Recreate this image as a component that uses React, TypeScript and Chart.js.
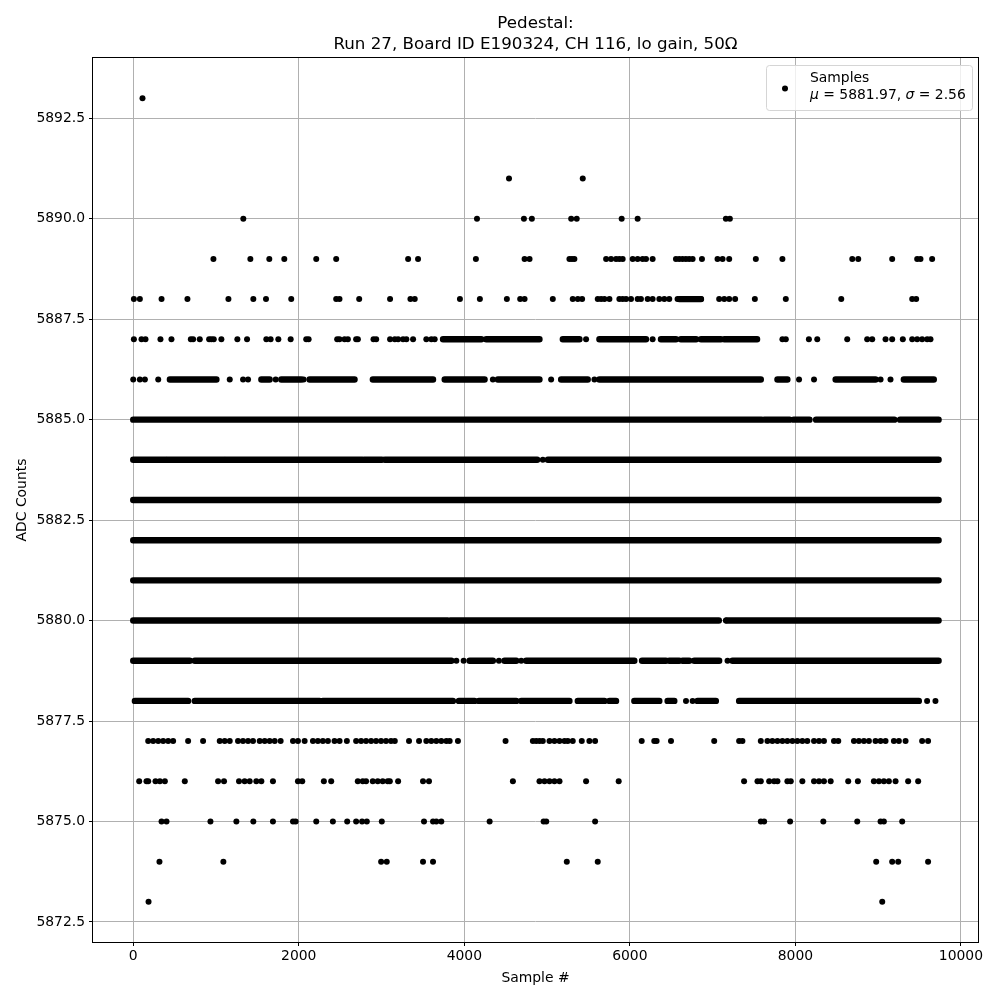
import React, { useEffect, useRef } from "react";
import { Chart, registerables } from "chart.js";
Chart.register(...registerables);

const titleLine1 = "Pedestal:";
const titleLine2 = "Run 27, Board ID E190324, CH 116, lo gain, 50Ω";
const xLabel = "Sample #";
const yLabel = "ADC Counts";
const legendLabel = "Samples";
const legendMu = "5881.97";
const legendSigma = "2.56";

const xTicks = [0, 2000, 4000, 6000, 8000, 10000];
const yTicks = [5872.5, 5875, 5877.5, 5880, 5882.5, 5885, 5887.5, 5890, 5892.5];
const xMin = -486;
const xMax = 10206;
const yMin = 5872;
const yMax = 5894;

// Isolated samples, grouped by ADC level
const sparseLevels = [5893, 5891, 5890, 5889, 5888, 5887, 5886, 5884, 5880, 5879, 5878, 5877, 5876, 5875, 5874, 5873];
const sparseX = [
  [112],
  [4540, 5431],
  [1330, 4153, 4720, 4816, 5291, 5358, 5901, 6094, 7160, 7208],
  [969, 1415, 1644, 1825, 2211, 2452, 3321, 3441, 4140, 4728, 4788, 5270, 5300, 5330, 5713, 5773, 5833, 5873, 5913, 6034, 6094, 6154, 6195, 6275, 6557, 6597, 6637, 6677, 6717, 6758, 6871, 7059, 7120, 7200, 7522, 7843, 8687, 8759, 9169, 9471, 9511, 9652],
  [8, 80, 342, 655, 1150, 1451, 1604, 1909, 2452, 2492, 2730, 3103, 3349, 3401, 3947, 4188, 4514, 4675, 4728, 5069, 5310, 5371, 5423, 5612, 5653, 5693, 5753, 5873, 5913, 5954, 6014, 6094, 6134, 6215, 6275, 6356, 6416, 6476, 6576, 6617, 6657, 6697, 6737, 6778, 6818, 6859, 7079, 7140, 7200, 7272, 7510, 7884, 8554, 9411, 9459],
  [8, 100, 148, 329, 462, 696, 724, 804, 917, 944, 973, 1065, 1258, 1375, 1608, 1660, 1753, 1902, 2090, 2119, 2464, 2492, 2553, 2593, 2693, 2714, 2903, 2935, 3103, 3160, 3200, 3260, 3300, 3381, 3541, 3602, 3642, 5471, 6275, 7843, 7884, 8163, 8264, 8626, 8867, 8928, 9089, 9169, 9298, 9411, 9471, 9531, 9592, 9632],
  [0, 80, 141, 302, 1166, 1327, 1387, 1721, 2059, 4345, 5049, 5572, 8044, 8225, 9029, 9149],
  [4948],
  [7160],
  [3904, 3992, 4418, 4688, 7180],
  [2271, 6678, 6758, 9591, 9692],
  [181, 241, 302, 362, 422, 482, 663, 844, 1045, 1105, 1166, 1266, 1326, 1387, 1447, 1528, 1588, 1648, 1709, 1781, 1930, 1990, 2071, 2171, 2231, 2291, 2352, 2432, 2493, 2581, 2693, 2753, 2813, 2874, 2934, 2994, 3054, 3114, 3160, 3332, 3453, 3541, 3601, 3662, 3722, 3783, 3823, 3923, 4498, 4828, 4869, 4909, 4948, 5029, 5089, 5150, 5210, 5250, 5310, 5419, 5511, 5580, 6143, 6295, 6323, 6497, 7019, 7320, 7360, 7582, 7662, 7722, 7783, 7843, 7903, 7964, 8024, 8084, 8144, 8225, 8285, 8345, 8466, 8518, 8707, 8767, 8828, 8888, 8968, 9029, 9089, 9190, 9250, 9331, 9531, 9603],
  [72, 160, 181, 269, 322, 382, 623, 1025, 1097, 1278, 1346, 1407, 1487, 1548, 1688, 1990, 2042, 2303, 2392, 2713, 2773, 2813, 2894, 2954, 3014, 3074, 3100, 3200, 3501, 3573, 4587, 4908, 4969, 5029, 5089, 5150, 5471, 5865, 7380, 7542, 7582, 7683, 7743, 7783, 7903, 7944, 8084, 8225, 8285, 8345, 8426, 8638, 8755, 8948, 9009, 9069, 9129, 9210, 9362, 9483],
  [342, 402, 933, 1246, 1451, 1688, 1930, 1962, 2211, 2412, 2585, 2693, 2765, 2822, 3003, 3513, 3622, 3662, 3722, 4306, 4958, 4990, 5580, 7582, 7622, 7936, 8337, 8747, 9029, 9069, 9290],
  [317, 1089, 2995, 3063, 3501, 3622, 5238, 5612, 8976, 9169, 9242, 9603],
  [185, 9049],
];

// Runs of consecutive samples at one level (start, end sample #) that merge into continuous bands
const runLevels = [5888, 5887, 5886, 5885, 5884, 5883, 5882, 5881, 5880, 5879, 5878];
const runRanges = [
  [[6597, 6859]],
  [[3743, 4205], [4265, 4908], [5190, 5391], [5632, 6195], [6376, 6557], [6617, 6800], [6860, 7100], [7140, 7537]],
  [[443, 1005], [1548, 1648], [1789, 2030], [2131, 2674], [2895, 3622], [3763, 4245], [4406, 4908], [5170, 5491], [5632, 7582], [7783, 7903], [8486, 8968], [9310, 9672]],
  [[0, 7590], [7625, 7930], [7980, 8170], [8250, 9195], [9265, 9730]],
  [[0, 395], [410, 1100], [1115, 2770], [2790, 3005], [3040, 4880], [5010, 9730]],
  [[0, 9730]],
  [[0, 9730]],
  [[0, 9730]],
  [[0, 3800], [3830, 7075], [7170, 9730]],
  [[0, 683], [744, 3843], [4064, 4345], [4486, 4627], [4748, 6054], [6147, 6436], [6476, 6597], [6637, 6717], [6778, 7079], [7240, 9730]],
  [[20, 663], [744, 2251], [2291, 3862], [3935, 4124], [4176, 4627], [4688, 5270], [5371, 5693], [5753, 5833], [6054, 6356], [6456, 6537], [6818, 7039], [7320, 9491]],
];

const FONT = '"DejaVu Sans", "Liberation Sans", sans-serif';

const decorPlugin = {
  id: "decor",
  afterDraw(chart: any) {
    const { ctx, chartArea: a } = chart;
    ctx.save();
    // frame
    ctx.strokeStyle = "#000";
    ctx.lineWidth = 1;
    ctx.strokeRect(Math.round(a.left) - 0.5, Math.round(a.top) - 0.5, Math.round(a.right - a.left) + 1, Math.round(a.bottom - a.top) + 1);
    const cx = (a.left + a.right) / 2;
    ctx.fillStyle = "#000";
    // title
    ctx.font = `16.7px ${FONT}`;
    ctx.textAlign = "center";
    ctx.textBaseline = "alphabetic";
    ctx.fillText(titleLine1, cx, 27.5);
    ctx.fillText(titleLine2, cx, 48.5);
    // axis labels
    ctx.font = `13.9px ${FONT}`;
    ctx.fillText(xLabel, cx, 982);
    ctx.save();
    ctx.translate(26, (a.top + a.bottom) / 2);
    ctx.rotate(-Math.PI / 2);
    ctx.fillText(yLabel, 0, 0);
    ctx.restore();
    // legend
    const bx = 766, by = 65, bw = 206, bh = 45;
    ctx.beginPath();
    ctx.roundRect(bx + 0.5, by + 0.5, bw, bh, 3);
    ctx.fillStyle = "rgba(255,255,255,0.8)";
    ctx.fill();
    ctx.strokeStyle = "#d5d5d5";
    ctx.lineWidth = 1;
    ctx.stroke();
    ctx.fillStyle = "#000";
    ctx.beginPath();
    ctx.arc(785, 88.5, 3, 0, Math.PI * 2);
    ctx.fill();
    ctx.textAlign = "left";
    ctx.font = `13.9px ${FONT}`;
    ctx.fillText(legendLabel, 810, 82);
    let x = 810;
    const y2 = 98.5;
    const parts: [string, boolean][] = [["μ", true], [" = " + legendMu + ", ", false], ["σ", true], [" = " + legendSigma, false]];
    for (const [t, it] of parts) {
      ctx.font = `${it ? "italic " : ""}13.9px ${FONT}`;
      ctx.fillText(t, x, y2);
      x += ctx.measureText(t).width;
    }
    ctx.restore();
  },
};

export default function App() {
  const ref = useRef<HTMLCanvasElement | null>(null);
  useEffect(() => {
    if (!ref.current) return;
    const points: { x: number; y: number }[] = [];
    sparseLevels.forEach((lvl, i) => sparseX[i].forEach((x) => points.push({ x, y: lvl })));
    const runData: { x: number; y: number | null }[] = [];
    runLevels.forEach((lvl, i) =>
      runRanges[i].forEach(([s, e]) => {
        runData.push({ x: s, y: lvl });
        runData.push({ x: e, y: lvl });
        runData.push({ x: e, y: null });
      })
    );
    const chart = new Chart(ref.current, {
      type: "scatter",
      data: {
        datasets: [
          {
            label: "Samples",
            data: points,
            backgroundColor: "#000",
            borderWidth: 0,
            pointRadius: 3,
            pointHoverRadius: 3,
          },
          {
            label: "Samples (dense)",
            data: runData as any,
            showLine: true,
            spanGaps: false,
            borderColor: "#000",
            borderWidth: 6.4,
            borderCapStyle: "round",
            pointRadius: 0,
            pointHoverRadius: 0,
          } as any,
        ],
      },
      options: {
        animation: false,
        responsive: false,
        events: [],
        layout: { padding: { left: 0, right: 22, top: 58, bottom: 0 } },
        plugins: { legend: { display: false }, tooltip: { enabled: false }, title: { display: false } },
        scales: {
          x: {
            type: "linear",
            min: xMin,
            max: xMax,
            afterFit: (s: any) => { s.height = 58; },
            afterBuildTicks: (s: any) => { s.ticks = xTicks.map((v) => ({ value: v })); },
            ticks: { font: { family: FONT, size: 13.9 }, color: "#000", padding: 2, maxRotation: 0, callback: (v: any) => String(v) },
            grid: { color: "#b0b0b0", lineWidth: 1, drawTicks: true, tickLength: 4, tickColor: "#000", tickWidth: 1 },
            border: { display: false },
          },
          y: {
            type: "linear",
            min: yMin,
            max: yMax,
            afterFit: (s: any) => { s.width = 93; },
            afterBuildTicks: (s: any) => { s.ticks = yTicks.map((v) => ({ value: v })); },
            ticks: { font: { family: FONT, size: 13.9 }, color: "#000", padding: 4, callback: (v: any) => Number(v).toFixed(1) },
            grid: { color: "#b0b0b0", lineWidth: 1, drawTicks: true, tickLength: 4, tickColor: "#000", tickWidth: 1 },
            border: { display: false },
          },
        },
      },
      plugins: [decorPlugin],
    } as any);
    return () => chart.destroy();
  }, []);
  return (
    <div style={{ position: "absolute", left: 0, top: 0, width: 1000, height: 1000, background: "#fff" }}>
      <canvas ref={ref} width={1000} height={1000} style={{ width: 1000, height: 1000 }} />
    </div>
  );
}
